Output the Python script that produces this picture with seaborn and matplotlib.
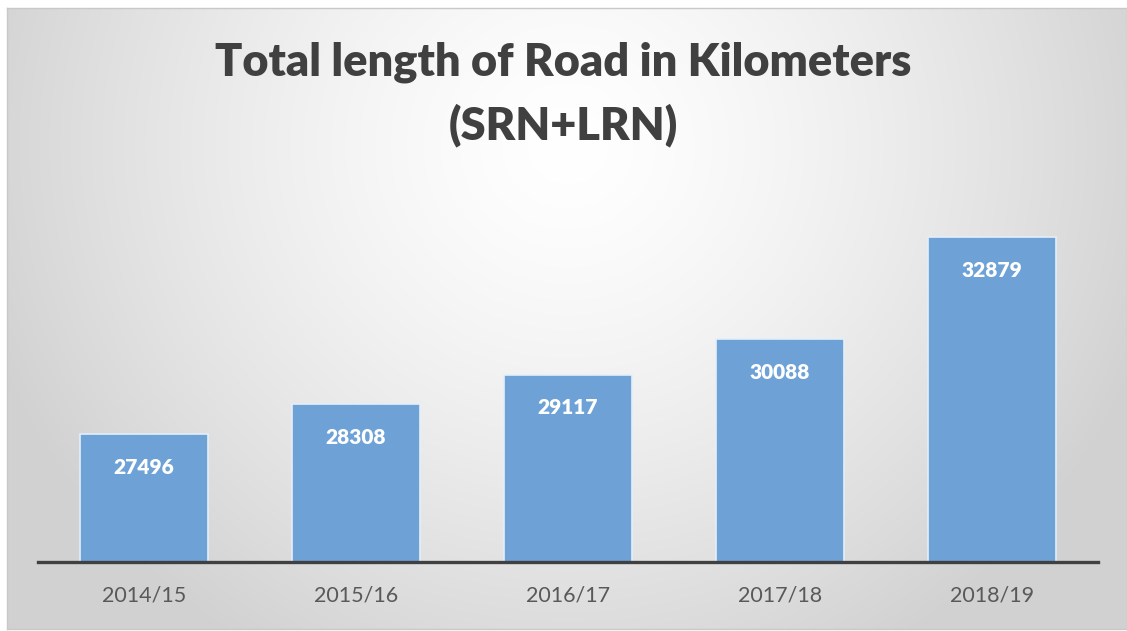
import numpy as np
import pandas as pd
import matplotlib
matplotlib.use("Agg")
import matplotlib.pyplot as plt
import seaborn as sns

categories = ["2014/15", "2015/16", "2016/17", "2017/18", "2018/19"]
values = [27496, 28308, 29117, 30088, 32879]
title_text = "Total length of Road in Kilometers\n(SRN+LRN)"

sns.set_style("white")
plt.rcParams['font.family'] = ['Lato', 'DejaVu Sans']

W, H = 1127, 631
fig = plt.figure(figsize=(W / 100, H / 100), dpi=100)
fig.patch.set_facecolor("white")

# background panel with radial gradient
bg = fig.add_axes([7 / W, 2 / H, 1120 / W, 621 / H])
ny, nx = 300, 560
yy, xx = np.mgrid[0:ny, 0:nx]
cx, cy = nx * 0.5, ny * 0.22
r = np.sqrt(((xx - cx) / (nx * 0.55)) ** 2 + ((yy - cy) / (ny * 0.95)) ** 2)
r = np.clip(r, 0, 1)
lum = 1.0 - 0.18 * r ** 1.4
img = np.dstack([lum, lum, lum])
bg.imshow(img, aspect="auto", extent=[0, 1, 0, 1], interpolation="bilinear")
bg.set_xlim(0, 1)
bg.set_ylim(0, 1)
bg.set_xticks([])
bg.set_yticks([])
for s in bg.spines.values():
    s.set_color("#c8c8c8")
    s.set_linewidth(1.0)
bg.set_zorder(0)

ax = fig.add_axes([38 / W, 69 / H, 1060 / W, 366 / H])
ax.set_zorder(1)
ax.patch.set_alpha(0)

df = pd.DataFrame({"year": categories, "km": values})
sns.barplot(data=df, x="year", y="km", color="#6EA2D7", saturation=1,
            width=0.6, edgecolor="#e4eef8", linewidth=1.2, ax=ax)

ax.set_ylim(24000, 34000)
ax.set_xlim(-0.5, len(categories) - 0.5)
ax.set_yticks([])
ax.set_xlabel("")
ax.set_ylabel("")
for side in ["left", "right", "top"]:
    ax.spines[side].set_visible(False)
ax.spines["bottom"].set_color("#404040")
ax.spines["bottom"].set_linewidth(2.4)
ax.tick_params(axis="x", length=0, pad=17, labelsize=15.5, labelcolor="#595959")

for i, v in enumerate(values):
    ax.annotate(f"{v}", (i, v), xytext=(0, -17), textcoords="offset points",
                ha="center", va="top", color="white", fontsize=15,
                fontweight="heavy")

fig.text(0.5, 1 - 94 / H, title_text, ha="center", va="center",
         fontsize=32.5, fontweight="heavy", color="#404040", linespacing=1.57)

fig.savefig("out.png", dpi=100)
